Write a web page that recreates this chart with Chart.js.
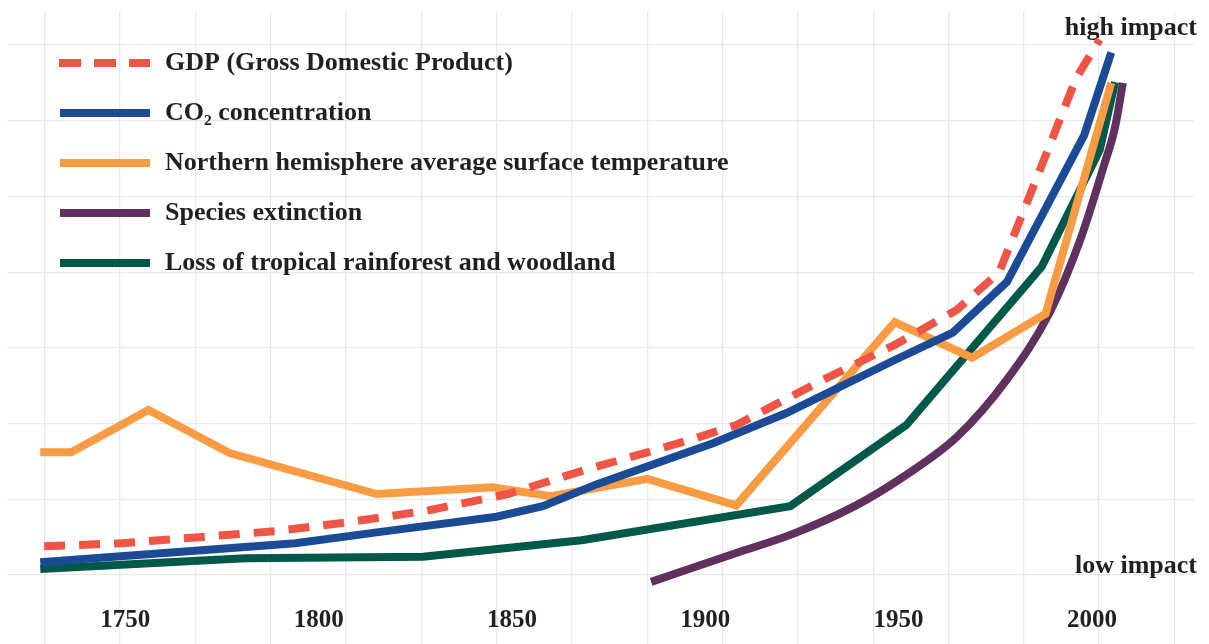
<!DOCTYPE html>
<html>
<head>
<meta charset="utf-8">
<script src="https://cdn.jsdelivr.net/npm/chart.js@4.4.1/dist/chart.umd.min.js"></script>
<style>
  html, body { margin: 0; padding: 0; background: #fff; }
  .chart-box { width: 1209px; height: 644px; }
</style>
</head>
<body>
<div class="chart-box"><canvas id="chart"></canvas></div>
<script>
// ***** data (x = year, y = relative impact)
const seriesLabels = [
  'GDP (Gross Domestic Product)',
  'CO\u2082 concentration',
  'Northern hemisphere average surface temperature',
  'Species extinction',
  'Loss of tropical rainforest and woodland',
];

const gdpYears = [1729, 1749, 1769, 1789, 1808, 1828, 1849, 1869, 1885, 1897, 1908, 1929, 1949, 1965, 1976, 1986, 1996, 2002];
const gdpValues = [0.38, 0.42, 0.5, 0.58, 0.7, 0.85, 1.07, 1.39, 1.62, 1.8, 1.98, 2.54, 3.04, 3.5, 4.0, 5.28, 6.57, 7.07];

const co2Years = [1728, 1794, 1816, 1846, 1858, 1872, 1902, 1921, 1949, 1964, 1978, 1998, 2005];
const co2Values = [0.17, 0.42, 0.57, 0.77, 0.91, 1.2, 1.74, 2.14, 2.84, 3.2, 3.87, 5.81, 6.9];

const tempYears = [1728, 1736, 1756, 1777, 1815, 1845, 1860, 1885, 1908, 1949, 1969, 1988, 2005];
const tempValues = [1.62, 1.62, 2.18, 1.61, 1.07, 1.16, 1.04, 1.27, 0.92, 3.34, 2.87, 3.45, 6.5];

const speciesYears = [1886, 1908, 1923, 1939, 1951, 1965, 1978, 1989, 1997, 2003, 2006, 2008];
const speciesValues = [-0.09, 0.29, 0.55, 0.92, 1.29, 1.82, 2.58, 3.46, 4.43, 5.39, 5.92, 6.5];

const forestYears = [1728, 1781, 1827, 1868, 1922, 1952, 1987, 2002, 2006];
const forestValues = [0.08, 0.22, 0.24, 0.46, 0.91, 1.98, 4.07, 5.61, 6.51];

const tickYears = [1750, 1800, 1850, 1900, 1950, 2000];
const impactLabels = ['low impact', 'high impact'];
const impactLevels = [0.12, 7.22];

// *****

const TEXT = '#231f20';
const GRID = '#e9e9e9';
Chart.defaults.font.family = "'Liberation Serif', 'DejaVu Serif', serif";
Chart.defaults.font.weight = 'bold';
Chart.defaults.color = TEXT;

const toPoints = (xs, ys) => xs.map((x, i) => ({ x, y: ys[i] }));

function lineSet(label, pts, color, extra) {
  return Object.assign({
    label,
    data: pts,
    borderColor: color,
    backgroundColor: color,
    borderWidth: 8,
    pointRadius: 0,
    tension: 0,
    fill: false,
  }, extra || {});
}

// the mirrored / inner label axes should not push the plot area in
const noPadding = axis => {
  axis.paddingTop = 0;
  axis.paddingBottom = 0;
  axis.paddingLeft = 0;
  axis.paddingRight = 0;
};

const ctx = document.getElementById('chart').getContext('2d');

const chart = new Chart(ctx, {
  type: 'line',
  data: {
    datasets: [
      lineSet(seriesLabels[0], toPoints(gdpYears, gdpValues), '#f05447', { borderDash: [21, 14] }),
      lineSet(seriesLabels[1], toPoints(co2Years, co2Values), '#1b4b96'),
      lineSet(seriesLabels[2], toPoints(tempYears, tempValues), '#f89b42'),
      lineSet(seriesLabels[3], toPoints(speciesYears, speciesValues), '#60305f', { cubicInterpolationMode: 'monotone' }),
      lineSet(seriesLabels[4], toPoints(forestYears, forestValues), '#02594a'),
    ],
  },
  options: {
    responsive: true,
    maintainAspectRatio: false,
    animation: false,
    layout: {
      padding: { left: 7, right: 9, top: 11, bottom: 0 },
    },
    plugins: {
      tooltip: { enabled: false },
      legend: {
        display: true,
        position: 'chartArea',
        align: 'start',
        title: {
          display: true,
          text: ' ',
          font: { size: 10 },
          padding: { top: 7, bottom: 7 },
        },
        labels: {
          usePointStyle: true,
          pointStyleWidth: 121,
          boxHeight: 26,
          padding: 24,
          color: TEXT,
          font: { size: 26, weight: 'bold' },
          // the dash pattern starts with an empty stretch so the swatch sits further right
          generateLabels(ch) {
            return ch.data.datasets.map((ds, i) => ({
              text: ds.label,
              fillStyle: ds.borderColor,
              strokeStyle: ds.borderColor,
              lineWidth: 8,
              lineDash: ds.borderDash ? [0, 28, 22, 13, 22, 13, 21, 1000] : [0, 29, 90, 1000],
              lineCap: 'butt',
              pointStyle: 'line',
              fontColor: TEXT,
              hidden: false,
              datasetIndex: i,
            }));
          },
        },
      },
    },
    scales: {
      // data axis in years, labels sit inside the plot under the last grid line
      x: {
        type: 'linear',
        min: 1719.4,
        max: 2026.4,
        position: { y: -0.4 },
        grid: { display: false, drawTicks: false },
        border: { display: false },
        afterBuildTicks: axis => {
          axis.ticks = tickYears.map(v => ({ value: v }));
        },
        afterFit: noPadding,
        ticks: {
          padding: 0,
          autoSkip: false,
          maxRotation: 0,
          font: { size: 25, weight: 'bold' },
          callback: v => String(v),
        },
      },
      // square background grid
      xGrid: {
        type: 'linear',
        position: 'bottom',
        min: -0.502,
        max: 15.26,
        grid: { color: GRID, lineWidth: 1.3, drawTicks: false },
        border: { display: false },
        ticks: { display: false, stepSize: 1, includeBounds: false },
      },
      y: {
        type: 'linear',
        position: 'left',
        min: -0.911,
        max: 7.449,
        grid: { color: GRID, lineWidth: 1.3, drawTicks: false },
        border: { display: false },
        ticks: { display: false, stepSize: 1, includeBounds: false },
      },
      yImpact: {
        type: 'linear',
        position: 'right',
        min: -0.911,
        max: 7.449,
        grid: { display: false, drawTicks: false },
        border: { display: false },
        afterBuildTicks: axis => {
          axis.ticks = impactLevels.map(v => ({ value: v }));
        },
        afterFit: noPadding,
        ticks: {
          mirror: true,
          padding: 3,
          font: { size: 26, weight: 'bold' },
          callback: (v, i) => impactLabels[i],
        },
      },
    },
  },
});
</script>
</body>
</html>
